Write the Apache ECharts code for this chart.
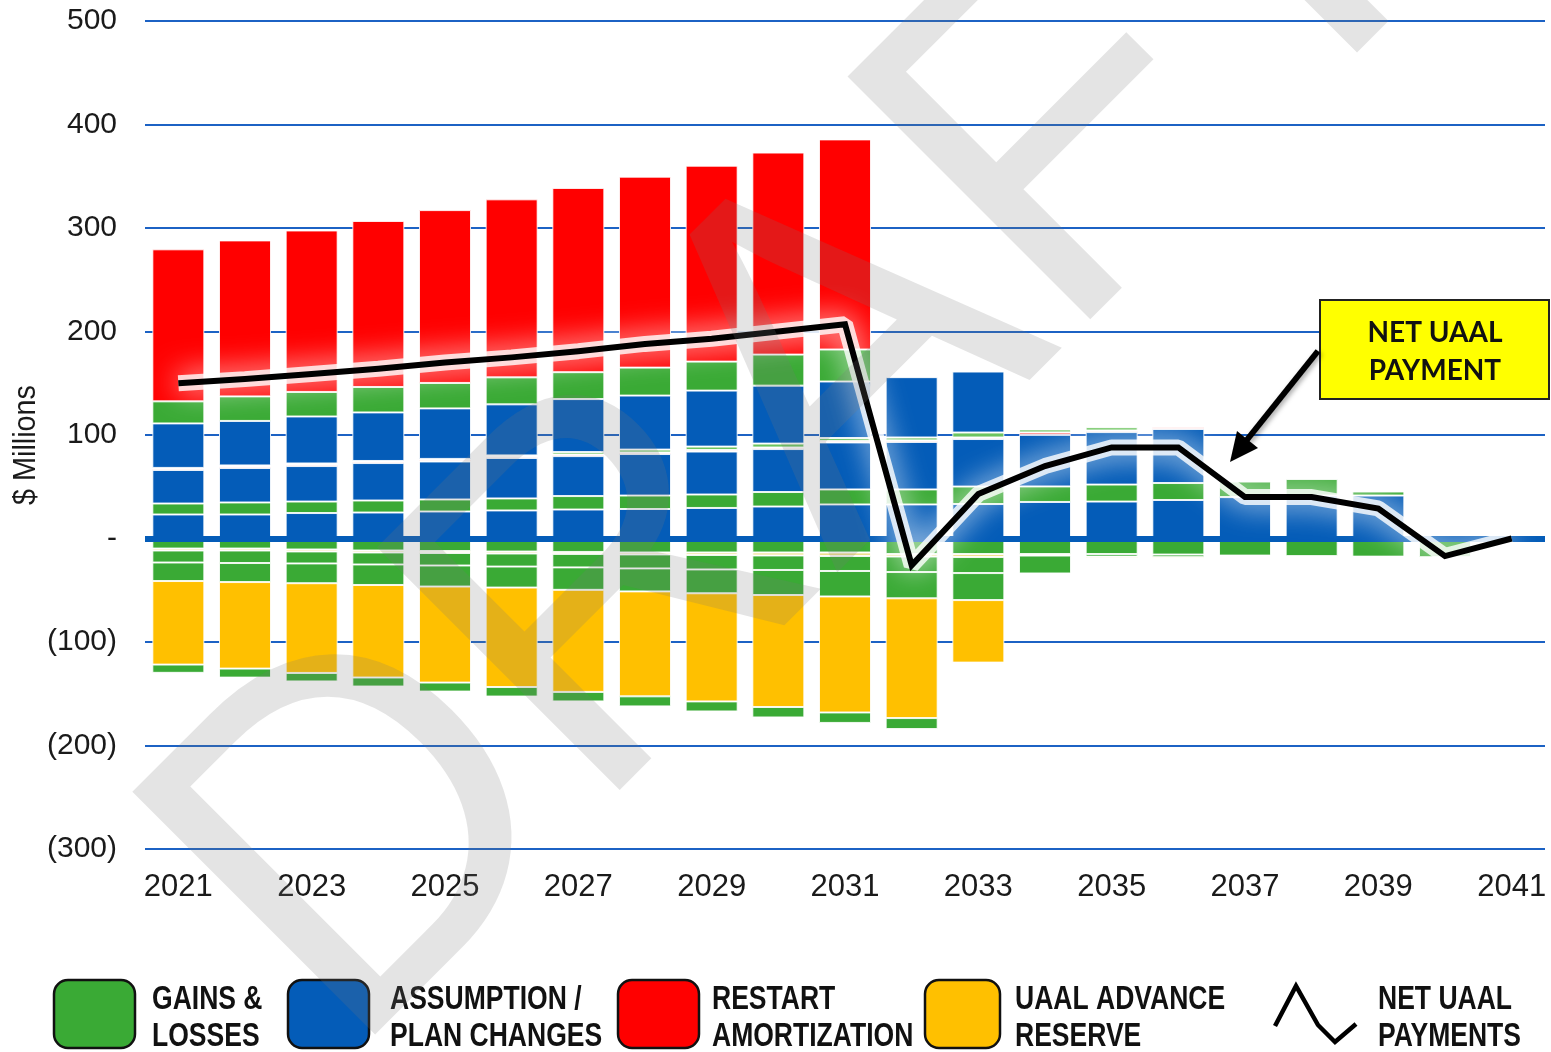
<!DOCTYPE html>
<html>
<head>
<meta charset="utf-8">
<script src="https://cdn.jsdelivr.net/npm/echarts@6/dist/echarts.min.js"></script>
<style>
  html, body { margin: 0; padding: 0; background: #fff; }
  #chart { width: 1551px; height: 1052px; }
</style>
</head>
<body>
<div id="chart"></div>
<script>
  // plan years
  const years = ['2021', '2022', '2023', '2024', '2025', '2026', '2027', '2028', '2029', '2030', '2031',
    '2032', '2033', '2034', '2035', '2036', '2037', '2038', '2039', '2040', '2041'];

  // positive layers, from zero upwards ($ millions)
  const blueBase = [23.2, 23.2, 24.6, 25.1, 26.1, 27.1, 28.0, 28.5, 29.5, 30.9, 32.9, 32.9, 33.3, 35.3, 35.7, 37.2, 40.0, 41.5, 41.5, 0, 0];
  const gainsLow = [10.6, 11.6, 11.1, 11.6, 11.6, 11.6, 13.0, 13.0, 13.0, 14.0, 14.5, 14.5, 16.9, 15.0, 16.4, 16.4, 15.0, 16.0, 3.9, 0, 0];
  const blueMid = [32.4, 33.3, 34.3, 36.2, 36.7, 39.1, 38.6, 40.1, 41.5, 41.5, 45.4, 45.9, 45.9, 49.8, 50.7, 52.2, 0, 0, 0, 0, 0];
  const restartThin = [1.5, 1.5, 1.5, 1.5, 1.5, 1.5, 1.5, 1.5, 1.5, 1.5, 1.5, 1.5, 1.5, 2.4, 1.5, 1.9, 0, 0, 0, 0, 0];
  const gainsThin = [0.5, 1.0, 1.0, 0.5, 1.0, 1.0, 2.4, 2.8, 3.3, 3.8, 2.8, 2.8, 4.8, 2.9, 3.3, 0, 0, 0, 0, 0, 0];
  const blueTop = [43.0, 43.0, 45.4, 46.9, 48.8, 49.3, 51.2, 52.2, 54.1, 56.0, 54.6, 58.3, 58.9, 0, 0, 0, 0, 0, 0, 0, 0];
  const gainsTop = [21.3, 23.7, 23.7, 24.6, 24.6, 26.1, 26.0, 27.0, 28.0, 30.0, 30.9, 0, 0, 0, 0, 0, 0, 0, 0, 0, 0];
  const restart = [146.9, 150.7, 156.0, 160.4, 167.0, 172.0, 178.0, 184.5, 189.3, 195.2, 203.0, 0, 0, 0, 0, 0, 0, 0, 0, 0, 0];

  // negative layers, from zero downwards
  const gainsNeg1 = [-9.7, -9.7, -10.6, -11.6, -12.1, -12.6, -13.0, -13.5, -13.5, -13.5, -13.5, -15.0, -15.0, -15.0, -15.0, -15.5, -16.5, -17.0, -17.5, -18.0, 0];
  const reserveThin = [-1.9, -1.9, -1.9, -1.9, -1.9, -1.9, -1.9, -1.9, -2.4, -2.9, -3.4, -2.4, -2.9, -1.5, 0, 0, 0, 0, 0, 0, 0];
  const gainsNeg2 = [-11.6, -12.1, -11.6, -11.6, -12.1, -12.6, -13.0, -13.5, -14.0, -14.0, -14.5, -15.0, -15.5, -17.3, -2.5, -2.5, 0, 0, 0, 0, 0];
  const gainsNeg3 = [-17.9, -18.4, -19.1, -19.8, -20.3, -20.3, -21.7, -22.2, -23.0, -24.2, -24.6, -25.4, -26.1, 0, 0, 0, 0, 0, 0, 0, 0];
  const reserve = [-80.7, -83.6, -86.7, -89.4, -92.8, -96.1, -98.6, -101.4, -104.5, -108.2, -112.1, -115.7, -60.4, 0, -1.3, -1.3, 0, 0, 0, 0, 0];
  const gainsNeg4 = [-8.0, -8.7, -8.2, -8.7, -8.7, -9.2, -9.2, -9.7, -9.7, -10.1, -10.1, -10.6, 0, 0, 0, 0, 0, 0, 0, 0, 0];

  // net UAAL payment line
  const netPayment = [150, 154, 159, 164, 170, 175, 181, 188, 193, 200, 207, -26, 43, 70, 88, 88, 40, 40, 29, -17, 0];

  const GREEN = '#3aaa35';
  const BLUE = '#045cb8';
  const RED = '#ff0000';
  const YELLOW = '#ffc000';

  const bar = (name, data, color) => ({
    name: name,
    type: 'bar',
    stack: 'all',
    barWidth: 52,
    data: data.map(v => v === 0 ? '-' : v),
    itemStyle: {
      color: color,
      borderColor: 'rgba(255,255,255,0.85)',
      borderWidth: 1
    }
  });

  const legendBox = (x, color, w) => ({
    type: 'rect', shape: { x: x, y: 980, width: w, height: 68, r: 14 },
    style: { fill: color, stroke: '#111', lineWidth: 2.5 }
  });

  // condensed bold look: squeeze Liberation Sans horizontally
  const legendText = (x, txt) => ({
    type: 'text', x: x, y: 1018, scaleX: 0.78, style: {
      text: txt, fill: '#111', font: 'bold 34px "Liberation Sans", Arial, sans-serif',
      lineHeight: 37, align: 'left', verticalAlign: 'middle'
    }
  });

  var option = {
    animation: false,
    backgroundColor: '#fff',
    grid: { left: 145, right: 6, top: 21, bottom: 203 },
    xAxis: {
      type: 'category',
      data: years,
      axisLine: { show: false, onZero: false },
      axisTick: { show: false },
      axisLabel: {
        interval: 1,
        color: '#1a1a1a',
        fontSize: 31,
        fontFamily: 'Liberation Sans',
        margin: 23
      }
    },
    yAxis: {
      type: 'value',
      min: -300,
      max: 500,
      interval: 100,
      axisLine: { show: false },
      axisTick: { show: false },
      axisLabel: {
        color: '#1a1a1a',
        fontSize: 30,
        fontFamily: 'Liberation Sans',
        margin: 28,
        formatter: v => v === 0 ? '-' : (v < 0 ? '(' + (-v) + ')' : String(v))
      },
      splitLine: { lineStyle: { color: '#1c62c4', width: 2 } }
    },
    series: [
      bar('ASSUMPTION / PLAN CHANGES', blueBase, BLUE),
      bar('GAINS & LOSSES', gainsLow, GREEN),
      bar('ASSUMPTION / PLAN CHANGES', blueMid, BLUE),
      bar('RESTART AMORTIZATION', restartThin, '#ff5a5a'),
      bar('GAINS & LOSSES', gainsThin, '#6cc45f'),
      bar('ASSUMPTION / PLAN CHANGES', blueTop, BLUE),
      bar('GAINS & LOSSES', gainsTop, GREEN),
      bar('RESTART AMORTIZATION', restart, RED),
      bar('GAINS & LOSSES', gainsNeg1, GREEN),
      bar('UAAL ADVANCE RESERVE', reserveThin, '#efe08a'),
      bar('GAINS & LOSSES', gainsNeg2, GREEN),
      bar('GAINS & LOSSES', gainsNeg3, GREEN),
      bar('UAAL ADVANCE RESERVE', reserve, YELLOW),
      bar('GAINS & LOSSES', gainsNeg4, GREEN),
      {
        name: 'glow',
        type: 'line',
        z: 5,
        data: netPayment,
        symbol: 'none',
        lineStyle: {
          color: 'rgba(255,255,255,0.8)',
          width: 16,
          shadowColor: '#fff',
          shadowBlur: 30
        },
        markLine: {
          silent: true,
          symbol: ['none', 'none'],
          label: { show: false },
          lineStyle: { color: BLUE, width: 6, type: 'solid' },
          data: [{ yAxis: 0 }]
        }
      },
      {
        name: 'NET UAAL PAYMENTS',
        type: 'line',
        z: 6,
        data: netPayment,
        symbol: 'none',
        lineStyle: { color: '#000', width: 6, join: 'miter' }
      }
    ],
    graphic: [
      // y axis title
      {
        type: 'text', x: 26, y: 445, rotation: Math.PI / 2, scaleX: 0.9,
        style: {
          text: '$ Millions', fill: '#1a1a1a', font: '32px "Liberation Sans", Arial, sans-serif',
          align: 'center', verticalAlign: 'middle'
        }
      },
      // annotation box + arrow
      {
        type: 'rect', z: 50, shape: { x: 1320, y: 300, width: 229, height: 99 },
        style: { fill: '#ffff00', stroke: '#222', lineWidth: 2 }
      },
      {
        type: 'text', z: 51, x: 1435, y: 352, style: {
          text: 'NET UAAL\nPAYMENT', fill: '#111', font: 'bold 28px Lato, sans-serif',
          lineHeight: 38, align: 'center', verticalAlign: 'middle'
        }
      },
      {
        type: 'line', z: 50, shape: { x1: 1318, y1: 351, x2: 1246, y2: 441 },
        style: { stroke: '#000', lineWidth: 6, shadowColor: 'rgba(0,0,0,0.35)', shadowBlur: 5, shadowOffsetX: 2, shadowOffsetY: 2 }
      },
      {
        type: 'polygon', z: 50, shape: { points: [[1230, 462], [1258, 448], [1237, 431]] },
        style: { fill: '#000' }
      },
      // legend
      legendBox(54, GREEN, 81),
      legendText(152, 'GAINS &\nLOSSES'),
      legendBox(288, BLUE, 81),
      legendText(390, 'ASSUMPTION /\nPLAN CHANGES'),
      legendBox(618, RED, 81),
      legendText(712, 'RESTART\nAMORTIZATION'),
      legendBox(925, YELLOW, 75),
      legendText(1015, 'UAAL ADVANCE\nRESERVE'),
      {
        type: 'polyline', shape: { points: [[1275, 1026], [1296, 986], [1318, 1025], [1335, 1042], [1356, 1024]] },
        style: { stroke: '#000', lineWidth: 4.5, fill: null }
      },
      legendText(1378, 'NET UAAL\nPAYMENTS'),
      // watermark
      {
        type: 'text', z: 100, silent: true, x: 250, y: 965, rotation: Math.PI / 4, scaleX: 0.96,
        style: {
          text: 'DRAFT', fill: 'rgba(120,120,120,0.2)',
          font: '499px "Liberation Sans", Arial, sans-serif',
          align: 'left', verticalAlign: 'middle'
        }
      }
    ]
  };

  var myChart = echarts.init(document.getElementById('chart'));
  myChart.setOption(option);
</script>
</body>
</html>
